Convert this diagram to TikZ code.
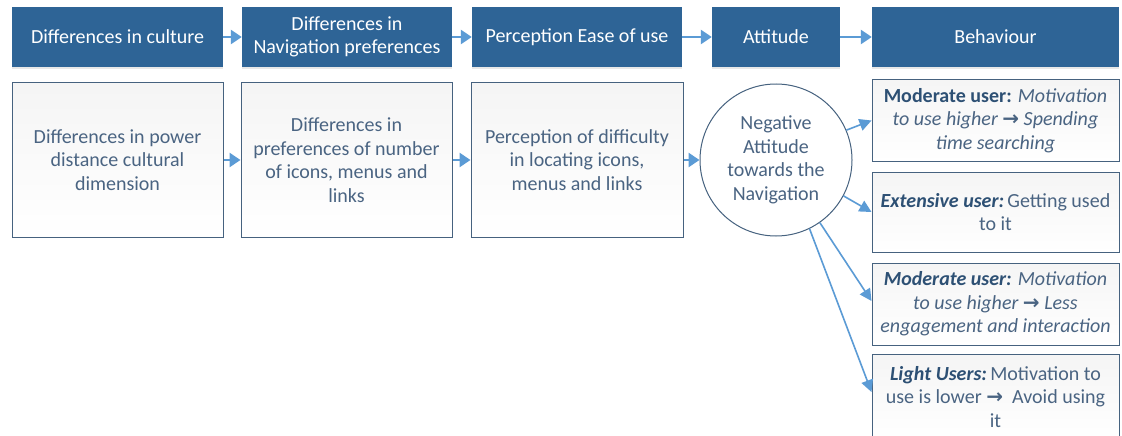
\documentclass[tikz,border=0pt]{standalone}
\usepackage{fontspec}
\setmainfont{Carlito}
\newfontfamily\symf{DejaVu Sans}
\usetikzlibrary{arrows.meta,shadows}

\definecolor{headfill}{HTML}{2E6496}
\definecolor{flowblue}{HTML}{5B9BD5}
\definecolor{boxline}{HTML}{46627F}
\definecolor{boxtext}{HTML}{4A6482}
\definecolor{labeltext}{HTML}{2D5074}

\newcommand{\flowarr}{{\symf\bfseries\upshape\fontsize{20}{20}\selectfont →}}
\newcommand{\lbl}[1]{{\bfseries\itshape\color{labeltext}#1}}

\tikzset{
  txt/.style={font=\fontsize{20}{23.5}\selectfont, align=center, inner sep=0pt},
  head/.style={txt, rectangle, fill=headfill, text=white, minimum height=60pt,
    drop shadow={opacity=0.18, shadow xshift=0pt, shadow yshift=-2.5pt}},
  card/.style={txt, rectangle, draw=boxline, line width=1pt, text=boxtext,
    top color=black!4, bottom color=white},
  bubble/.style={txt, circle, draw=boxline, line width=1pt, fill=white,
    text=boxtext, minimum size=152pt},
  thickflow/.style={draw=flowblue, line width=2.6pt,
    -{Triangle[length=11pt,width=14pt]}},
  thinflow/.style={draw=flowblue, line width=1.6pt,
    -{Triangle[length=12pt,width=12pt]}}
}

\begin{document}
\begin{tikzpicture}[x=1pt,y=-1pt]
  \clip (0,0) rectangle (1122,436);
  \fill[white] (0,0) rectangle (1122,436);

  % header row
  \node[head, minimum width=211pt] (h1) at (117.5,37) {Differences in culture};
  \node[head, minimum width=210pt] (h2) at (347,37) {Differences in\\Navigation preferences};
  \node[head, minimum width=210pt] (h3) at (577,37) {Perception Ease of use};
  \node[head, minimum width=128pt] (h4) at (776,37) {Attitude};
  \node[head, minimum width=247pt] (h5) at (995.5,37) {Behaviour};

  \draw[thickflow] (h1.east) -- (h2.west);
  \draw[thickflow] (h2.east) -- (h3.west);
  \draw[thickflow] (h3.east) -- (h4.west);
  \draw[thickflow] (h4.east) -- (h5.west);

  % detail row
  \node[card, minimum width=211pt, minimum height=154pt] (d1) at (117.5,160)
    {Differences in power\\distance cultural\\dimension};
  \node[card, minimum width=211pt, minimum height=154pt] (d2) at (346.5,160)
    {Differences in\\preferences of number\\of icons, menus and\\links};
  \node[card, minimum width=212pt, minimum height=154pt] (d3) at (577,160)
    {Perception of difficulty\\in locating icons,\\menus and links};
  \node[bubble] (att) at (776,160) {Negative\\Attitude\\towards the\\Navigation};

  \draw[thickflow] (d1.east) -- (d2.west);
  \draw[thickflow] (d2.east) -- (d3.west);
  \draw[thickflow] (d3.east) -- (att.west);

  % behaviour outcomes
  \node[card, minimum width=247pt, minimum height=81pt] (b1) at (995.5,120.5)
    {{\bfseries\color{labeltext}Moderate user:} \textit{Motivation}\\
     \textit{to use higher \flowarr\ Spending}\\\textit{time searching}};
  \node[card, minimum width=247pt, minimum height=80pt] (b2) at (995.5,212)
    {\lbl{Extensive user:}\,Getting used\\to it};
  \node[card, minimum width=247pt, minimum height=82pt] (b3) at (995.5,304)
    {\lbl{Moderate user:} \textit{Motivation}\\
     \textit{to use higher \flowarr\ Less}\\\textit{engagement and interaction}};
  \node[card, minimum width=247pt, minimum height=86pt] (b4) at (995.5,397)
    {\lbl{Light Users:}\,Motivation to\\use is lower \flowarr\ \ Avoid using\\it};

  \draw[thinflow] (att.23) -- (b1.west);
  \draw[thinflow] (att.-28) -- (b2.west);
  \draw[thinflow] (att.-55) -- ([yshift=3pt]b3.west);
  \draw[thinflow] (att.-64) -- ([yshift=5pt]b4.west);
\end{tikzpicture}
\end{document}
